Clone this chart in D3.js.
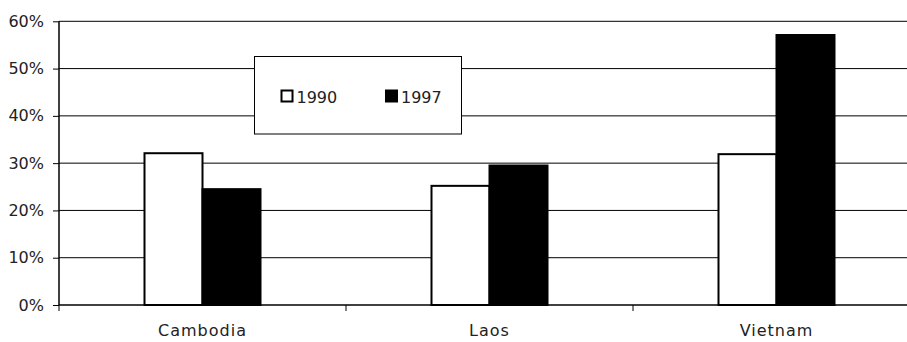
<!DOCTYPE html>
<html><head><meta charset="utf-8">
<script src="https://cdn.jsdelivr.net/npm/d3@7"></script>
<style>
html,body{margin:0;padding:0;background:#fff;}
svg{display:block;font-family:"DejaVu Sans",sans-serif;}
</style></head>
<body>
<svg id="chart" width="907" height="342"></svg>
<script>
const categories = ["Cambodia", "Laos", "Vietnam"];
const seriesNames = ["1990", "1997"];
const values1990 = [32.1, 25.2, 31.9];
const values1997 = [24.5, 29.5, 57.1];
const yTicks = [0, 10, 20, 30, 40, 50, 60];

const svg = d3.select("#chart");
const fontSize = 16;
const x0 = 59, x1 = 920, yTop = 21.3, yBot = 305;

const x = d3.scaleBand().domain(categories).range([x0, x1]).paddingInner(0).paddingOuter(0);
const y = d3.scaleLinear().domain([0, 60]).range([yBot, yTop]);
const bw = 58;
const xs = d3.scaleBand().domain(seriesNames).range([-bw, bw]);

// gridlines
svg.append("g").selectAll("line").data(yTicks.filter(d => d > 0)).join("line")
  .attr("x1", x0).attr("x2", x1)
  .attr("y1", d => y(d)).attr("y2", d => y(d))
  .attr("stroke", "#000").attr("stroke-width", 1);

// bars
const data = categories.map((c, i) => ({c, vals: [{s: "1990", v: values1990[i]}, {s: "1997", v: values1997[i]}]}));
const g = svg.append("g").selectAll("g").data(data).join("g")
  .attr("transform", d => `translate(${x(d.c) + x.bandwidth() / 2},0)`);
g.selectAll("rect").data(d => d.vals).join("rect")
  .attr("x", d => xs(d.s))
  .attr("width", xs.bandwidth())
  .attr("y", d => y(d.v))
  .attr("height", d => yBot - y(d.v))
  .attr("fill", d => d.s === "1990" ? "#fff" : "#000")
  .attr("stroke", "#000")
  .attr("stroke-width", 2);

// y axis
const yAxis = d3.axisLeft(y).tickValues(yTicks).tickFormat(d => d + "%").tickSize(6).tickPadding(9);
const ya = svg.append("g").attr("transform", `translate(${x0},0)`).call(yAxis);
ya.select(".domain").attr("stroke", "#000").attr("stroke-width", 1.5).attr("d", `M0,${yTop}V${yBot}`);
ya.selectAll(".tick line").attr("stroke", "#000");
ya.selectAll(".tick text").attr("font-size", fontSize).attr("font-family", "DejaVu Sans").attr("fill", "#222");

// x axis
const xa = svg.append("g").attr("transform", `translate(0,${yBot})`);
xa.append("line").attr("x1", x0).attr("x2", x1).attr("stroke", "#000").attr("stroke-width", 1.5);
const tickXs = categories.map(c => x(c)).concat([x1]);
xa.selectAll("line.tk").data(tickXs).join("line").attr("class", "tk")
  .attr("x1", d => d).attr("x2", d => d).attr("y1", 0).attr("y2", 6)
  .attr("stroke", "#000");
xa.selectAll("text").data(categories).join("text")
  .attr("x", d => x(d) + x.bandwidth() / 2)
  .attr("y", 31)
  .attr("text-anchor", "middle")
  .attr("font-size", fontSize)
  .attr("letter-spacing", 1)
  .attr("fill", "#222")
  .text(d => d);

// legend
const lg = svg.append("g");
lg.append("rect").attr("x", 254.5).attr("y", 56.5).attr("width", 207).attr("height", 77.5)
  .attr("fill", "#fff").attr("stroke", "#000").attr("stroke-width", 1);
const legX = [281.5, 386];
seriesNames.forEach((s, i) => {
  lg.append("rect").attr("x", legX[i]).attr("y", 90.5).attr("width", 11).attr("height", 11)
    .attr("fill", i === 0 ? "#fff" : "#000").attr("stroke", "#000").attr("stroke-width", 2);
  lg.append("text").attr("x", legX[i] + 15).attr("y", 102.5).attr("font-size", fontSize).attr("fill", "#222").text(s);
});
</script>
</body></html>
